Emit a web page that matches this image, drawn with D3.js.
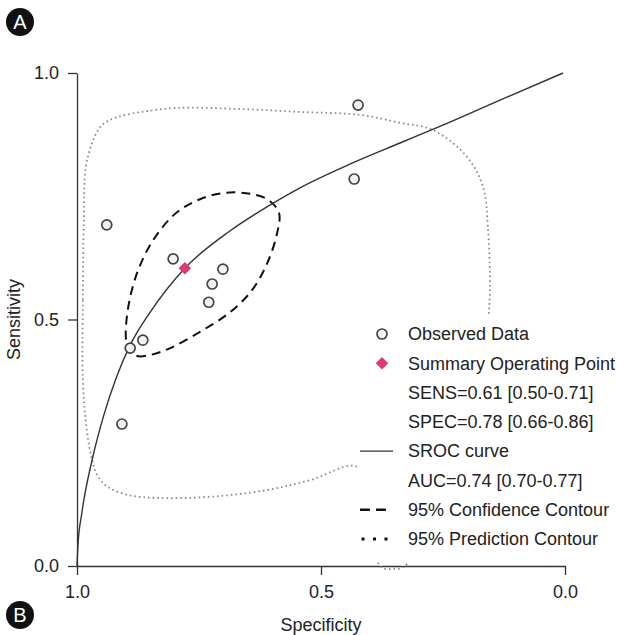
<!DOCTYPE html>
<html>
<head>
<meta charset="utf-8">
<script src="https://cdn.jsdelivr.net/npm/d3@7"></script>
<style>
  body { margin: 0; background: #fff; }
  svg { font-family: "Liberation Sans", Arial, Helvetica, sans-serif; }
  .axis text { font-size: 18px; fill: #222; }
  .axis path, .axis line { stroke: #333; stroke-width: 1.3; }
</style>
</head>
<body>
<div id="chart"></div>
<script>
// observed studies [specificity, sensitivity]
var observed = [
    [0.939, 0.692], [0.424, 0.935], [0.432, 0.785], [0.803, 0.623],
    [0.701, 0.602], [0.723, 0.572], [0.730, 0.535], [0.865, 0.458],
    [0.891, 0.442], [0.908, 0.288]
];

// summary operating point
var summaryPoint = [0.779, 0.604];

// SROC curve
var srocSpec = [1.0, 0.998, 0.990, 0.969, 0.945, 0.920, 0.889, 0.850, 0.779, 0.686, 0.598, 0.543, 0.441, 0.338, 0.270, 0.133, 0.004];
var srocSens = [0.0, 0.043, 0.108, 0.215, 0.306, 0.381, 0.452, 0.515, 0.604, 0.680, 0.736, 0.767, 0.815, 0.858, 0.886, 0.945, 1.0];

// 95% confidence contour
var confSpec = [0.895, 0.877, 0.850, 0.809, 0.748, 0.686, 0.641, 0.609, 0.590, 0.586, 0.607, 0.645, 0.697, 0.748, 0.797, 0.844, 0.877, 0.895, 0.900];
var confSens = [0.438, 0.426, 0.428, 0.442, 0.475, 0.515, 0.560, 0.617, 0.675, 0.716, 0.742, 0.755, 0.757, 0.744, 0.716, 0.661, 0.594, 0.525, 0.465];

// 95% prediction contour
var predSpec = [0.988, 0.988, 0.986, 0.982, 0.969, 0.957, 0.943, 0.916, 0.867, 0.799, 0.666, 0.543, 0.420, 0.338, 0.270, 0.201, 0.168, 0.158, 0.154, 0.160, 0.195, 0.256, 0.328, 0.352, 0.377, 0.410, 0.426, 0.523, 0.611, 0.732, 0.834, 0.895, 0.936, 0.957, 0.969, 0.980];
var predSens = [0.377, 0.540, 0.702, 0.809, 0.858, 0.884, 0.899, 0.911, 0.921, 0.929, 0.927, 0.921, 0.915, 0.899, 0.884, 0.830, 0.769, 0.688, 0.554, 0.479, 0.296, 0.134, 0.0, -0.006, -0.002, 0.093, 0.201, 0.174, 0.154, 0.140, 0.138, 0.144, 0.160, 0.181, 0.215, 0.276];

var tickValues = [0, 0.5, 1];
var legendLabels = [
    'Observed Data', 'Summary Operating Point', 'SENS=0.61 [0.50-0.71]',
    'SPEC=0.78 [0.66-0.86]', 'SROC curve', 'AUC=0.74 [0.70-0.77]',
    '95% Confidence Contour', '95% Prediction Contour'
];
var legendSymbols = ['circle', 'diamond', '', '', 'solid', '', 'dashed', 'dotted'];

var svgWidth = 617, svgHeight = 635;
var margin = {top: 73, right: 52, bottom: 69, left: 77};

var svg = d3.select('#chart').append('svg')
    .attr('width', svgWidth).attr('height', svgHeight);

var x = d3.scaleLinear().domain([1, 0]).range([margin.left, svgWidth - margin.right]);
var y = d3.scaleLinear().domain([0, 1]).range([svgHeight - margin.bottom, margin.top]);

var zip = function(a, b) { return a.map(function(d, i) { return [d, b[i]]; }); };

// axes
svg.append('g')
    .attr('class', 'axis')
    .attr('transform', 'translate(0,' + y(0) + ')')
    .call(d3.axisBottom(x).tickValues(tickValues).tickFormat(d3.format('.1f'))
        .tickSize(9).tickSizeOuter(0).tickPadding(10));

svg.append('g')
    .attr('class', 'axis')
    .attr('transform', 'translate(' + x(1) + ',0)')
    .call(d3.axisLeft(y).tickValues(tickValues).tickFormat(d3.format('.1f'))
        .tickSize(9).tickSizeOuter(0).tickPadding(9));

svg.append('text')
    .attr('x', (x(1) + x(0)) / 2).attr('y', 631)
    .attr('text-anchor', 'middle').attr('font-size', 18).attr('fill', '#222')
    .text('Specificity');

svg.append('text')
    .attr('transform', 'translate(20,' + (y(0) + y(1)) / 2 + ') rotate(-90)')
    .attr('text-anchor', 'middle').attr('font-size', 18).attr('fill', '#222')
    .text('Sensitivity');

var line = d3.line().x(function(d) { return x(d[0]); }).y(function(d) { return y(d[1]); });

// prediction contour (gray dotted)
svg.append('path')
    .datum(zip(predSpec, predSens))
    .attr('d', line.curve(d3.curveCatmullRomClosed))
    .attr('fill', 'none').attr('stroke', '#8a8a8a')
    .attr('stroke-width', 1.8).attr('stroke-dasharray', '1.6,3');

// confidence contour (black dashed)
svg.append('path')
    .datum(zip(confSpec, confSens))
    .attr('d', line.curve(d3.curveCatmullRomClosed))
    .attr('fill', 'none').attr('stroke', '#111')
    .attr('stroke-width', 2).attr('stroke-dasharray', '9,6');

// SROC curve
svg.append('path')
    .datum(zip(srocSpec, srocSens))
    .attr('d', line.curve(d3.curveMonotoneX))
    .attr('fill', 'none').attr('stroke', '#333').attr('stroke-width', 1.4);

// observed points
svg.append('g').selectAll('circle')
    .data(observed).enter().append('circle')
    .attr('cx', function(d) { return x(d[0]); })
    .attr('cy', function(d) { return y(d[1]); })
    .attr('r', 5)
    .attr('fill', '#f2f2f2').attr('stroke', '#444').attr('stroke-width', 1.7);

// summary point
var diamond = d3.symbol().type(d3.symbolDiamond2).size(100);
svg.append('path')
    .attr('d', diamond())
    .attr('transform', 'translate(' + x(summaryPoint[0]) + ',' + y(summaryPoint[1]) + ')')
    .attr('fill', '#d93b72');

// legend
var legend = svg.append('g');
legend.append('rect')
    .attr('x', 357).attr('y', 316).attr('width', 260).attr('height', 246)
    .attr('fill', '#fff');

var ly = d3.scalePoint().domain(legendLabels).range([334, 539]);

legendLabels.forEach(function(label, i) {
    var yy = ly(label), sym = legendSymbols[i];
    if (sym === 'circle') {
        legend.append('circle').attr('cx', 382).attr('cy', yy).attr('r', 5)
            .attr('fill', '#f2f2f2').attr('stroke', '#444').attr('stroke-width', 1.7);
    } else if (sym === 'diamond') {
        legend.append('path').attr('d', diamond())
            .attr('transform', 'translate(382,' + yy + ')').attr('fill', '#d93b72');
    } else if (sym === 'solid') {
        legend.append('line').attr('x1', 360).attr('x2', 393).attr('y1', yy).attr('y2', yy)
            .attr('stroke', '#333').attr('stroke-width', 1.4);
    } else if (sym === 'dashed') {
        legend.append('line').attr('x1', 360).attr('x2', 389).attr('y1', yy).attr('y2', yy)
            .attr('stroke', '#111').attr('stroke-width', 2.5).attr('stroke-dasharray', '10,6');
    } else if (sym === 'dotted') {
        legend.append('line').attr('x1', 361.5).attr('x2', 389).attr('y1', yy).attr('y2', yy)
            .attr('stroke', '#111').attr('stroke-width', 3).attr('stroke-dasharray', '3,8.5');
    }
    legend.append('text')
        .attr('x', 408).attr('y', yy).attr('dy', '0.35em')
        .attr('font-size', 18).attr('fill', '#222')
        .text(label);
});

// panel badges
[['A', 20, 22], ['B', 20, 615]].forEach(function(b) {
    svg.append('circle').attr('cx', b[1]).attr('cy', b[2]).attr('r', 14).attr('fill', '#111');
    svg.append('text').attr('x', b[1]).attr('y', b[2]).attr('dy', '0.36em')
        .attr('text-anchor', 'middle').attr('font-size', 20).attr('fill', '#fff')
        .text(b[0]);
});
</script>
</body>
</html>
